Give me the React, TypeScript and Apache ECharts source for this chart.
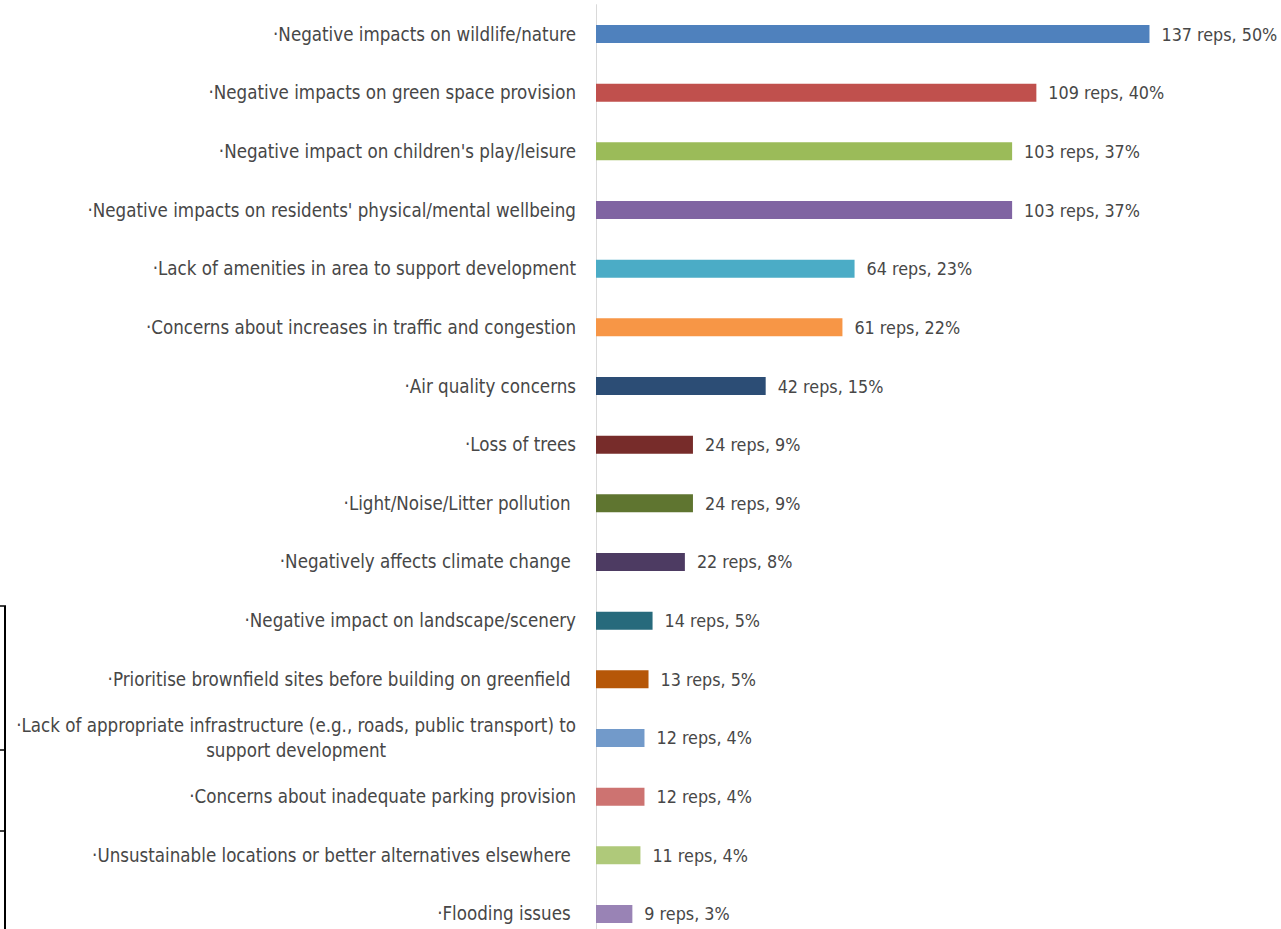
import React, { useEffect, useRef } from "react";
import * as echarts from "echarts";

const categories = [
  "·Negative impacts on wildlife/nature",
  "·Negative impacts on green space provision",
  "·Negative impact on children's play/leisure",
  "·Negative impacts on residents' physical/mental wellbeing",
  "·Lack of amenities in area to support development",
  "·Concerns about increases in traffic and congestion",
  "·Air quality concerns",
  "·Loss of trees",
  "·Light/Noise/Litter pollution ",
  "·Negatively affects climate change ",
  "·Negative impact on landscape/scenery",
  "·Prioritise brownfield sites before building on greenfield ",
  "·Lack of appropriate infrastructure (e.g., roads, public transport) to\nsupport development",
  "·Concerns about inadequate parking provision",
  "·Unsustainable locations or better alternatives elsewhere ",
  "·Flooding issues ",
];
const reps = [137, 109, 103, 103, 64, 61, 42, 24, 24, 22, 14, 13, 12, 12, 11, 9];
const percents = [50, 40, 37, 37, 23, 22, 15, 9, 9, 8, 5, 5, 4, 4, 4, 3];
const colors = [
  "#4F81BD", "#C0504D", "#9BBB59", "#8064A2", "#4BACC6", "#F79646",
  "#2C4D75", "#772C2A", "#5F7530", "#4D3B62", "#276A7C", "#B65708",
  "#729ACA", "#CD7371", "#AFC97A", "#9983B5",
];

const FONT = "'Liberation Sans Narrow', 'DejaVu Sans Condensed', 'Noto Sans', sans-serif";
const TEXT = "#474747";
const FS = 18.6;

export default function App() {
  const ref = useRef<HTMLDivElement>(null);
  useEffect(() => {
    if (!ref.current) return;
    const chart = echarts.init(ref.current, undefined, { renderer: "svg" });
    chart.setOption({
      animation: false,
      backgroundColor: "#ffffff",
      grid: { left: 596, right: 38.6, top: 4.7, bottom: 0.7, containLabel: false },
      xAxis: {
        type: "value",
        min: 0,
        max: 160,
        show: false,
        splitLine: { show: false },
      },
      yAxis: {
        type: "category",
        inverse: true,
        data: categories,
        axisTick: { show: false },
        axisLine: { show: true, lineStyle: { color: "#D9D9D9", width: 1 } },
        axisLabel: {
          margin: 20,
          color: TEXT,
          fontSize: FS,
          fontFamily: FONT,
          lineHeight: 25,
          formatter: (v: string) => {
            if (v.indexOf("\n") >= 0) {
              return v
                .split("\n")
                .map((l) => "{c|" + l + "}")
                .join("\n");
            }
            return v;
          },
          rich: {
            c: {
              align: "center",
              color: TEXT,
              fontSize: FS,
              fontFamily: FONT,
              lineHeight: 25,
            },
          },
        },
      },
      series: [
        {
          type: "bar",
          barWidth: 18,
          data: reps.map((v, i) => ({
            value: v,
            itemStyle: { color: colors[i] },
          })),
          label: {
            show: true,
            position: "right",
            distance: 12,
            color: TEXT,
            fontSize: 17.8,
            fontFamily: FONT,
            formatter: (p: any) => `${reps[p.dataIndex]} reps, ${percents[p.dataIndex]}%`,
          },
        },
      ],
      graphic: [
        { type: "line", shape: { x1: 5, y1: 606, x2: 5, y2: 944 }, style: { stroke: "#000", lineWidth: 2 } },
        { type: "line", shape: { x1: 0, y1: 606, x2: 6, y2: 606 }, style: { stroke: "#000", lineWidth: 1.5 } },
        { type: "line", shape: { x1: 0, y1: 750, x2: 6, y2: 750 }, style: { stroke: "#000", lineWidth: 1.5 } },
        { type: "line", shape: { x1: 0, y1: 831, x2: 6, y2: 831 }, style: { stroke: "#000", lineWidth: 1.5 } },
      ],
    });
    return () => chart.dispose();
  }, []);
  return (
    <div
      style={{
        position: "absolute",
        left: 0,
        top: 0,
        width: 1281,
        height: 929,
        overflow: "hidden",
        background: "#fff",
      }}
    >
      <div ref={ref} style={{ width: 1281, height: 944 }} />
    </div>
  );
}
